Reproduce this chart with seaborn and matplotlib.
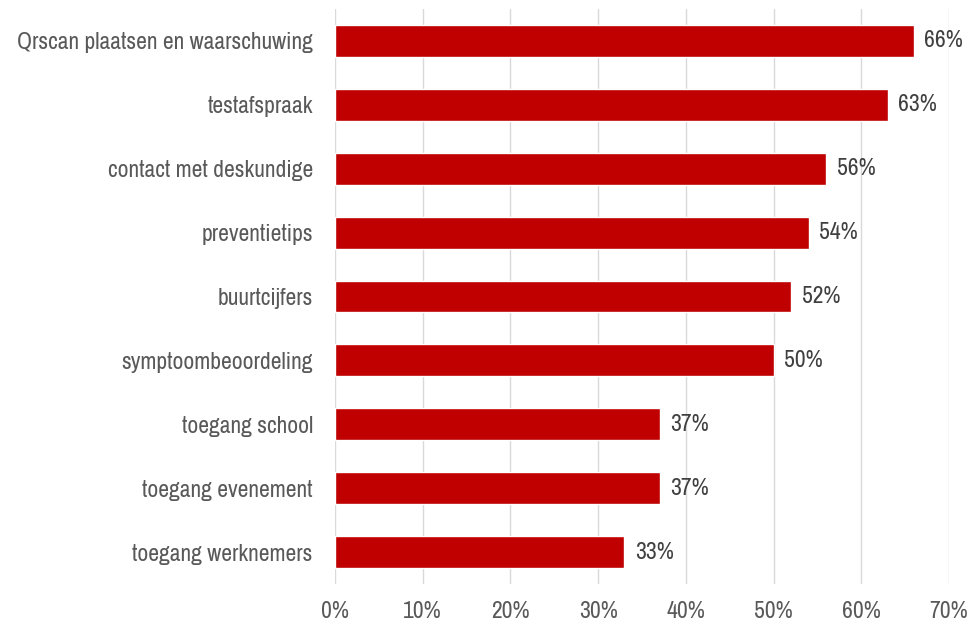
import matplotlib
matplotlib.use("Agg")
import matplotlib.pyplot as plt
import seaborn as sns
import pandas as pd
from matplotlib import font_manager

categories = [
    "Qrscan plaatsen en waarschuwing",
    "testafspraak",
    "contact met deskundige",
    "preventietips",
    "buurtcijfers",
    "symptoombeoordeling",
    "toegang school",
    "toegang evenement",
    "toegang werknemers",
]
values = [66, 63, 56, 54, 52, 50, 37, 37, 33]
xticks = [0, 10, 20, 30, 40, 50, 60, 70]

sns.set_theme(style="white")
names = {f.name for f in font_manager.fontManager.ttflist}
preferred = ["Liberation Sans Narrow", "Arial Narrow", "Archivo Narrow",
             "PT Sans Narrow", "Roboto Condensed", "Liberation Sans"]
family = [f for f in preferred if f in names][:1] + ["DejaVu Sans"]
plt.rcParams["font.family"] = family

df = pd.DataFrame({"cat": categories, "val": values})

fig = plt.figure(figsize=(9.72, 6.23), dpi=100)
ax = fig.add_axes([0.3447, 0.0626, 0.6316, 0.923])

sns.barplot(data=df, y="cat", x="val", orient="h", color="#C00000",
            saturation=1, width=0.5, ax=ax, zorder=3)

ax.set_xlim(0, 70)
ax.set_ylim(len(categories) - 0.5, -0.5)
ax.set_xticks(xticks)
ax.set_xticklabels([f"{t}%" for t in xticks])
ax.grid(axis="x", color="#d9d9d9", linewidth=1, zorder=0)
ax.grid(axis="y", visible=False)
for s in ax.spines.values():
    s.set_visible(False)
ax.set_xlabel("")
ax.set_ylabel("")
ax.tick_params(axis="both", length=0, labelsize=17, colors="#595959")
ax.tick_params(axis="x", pad=12)
ax.tick_params(axis="y", pad=16)

for i, v in enumerate(values):
    ax.text(v + 1.2, i, f"{v}%", va="center", ha="left",
            fontsize=17, color="#404040")

fig.savefig("out.png", dpi=100)
